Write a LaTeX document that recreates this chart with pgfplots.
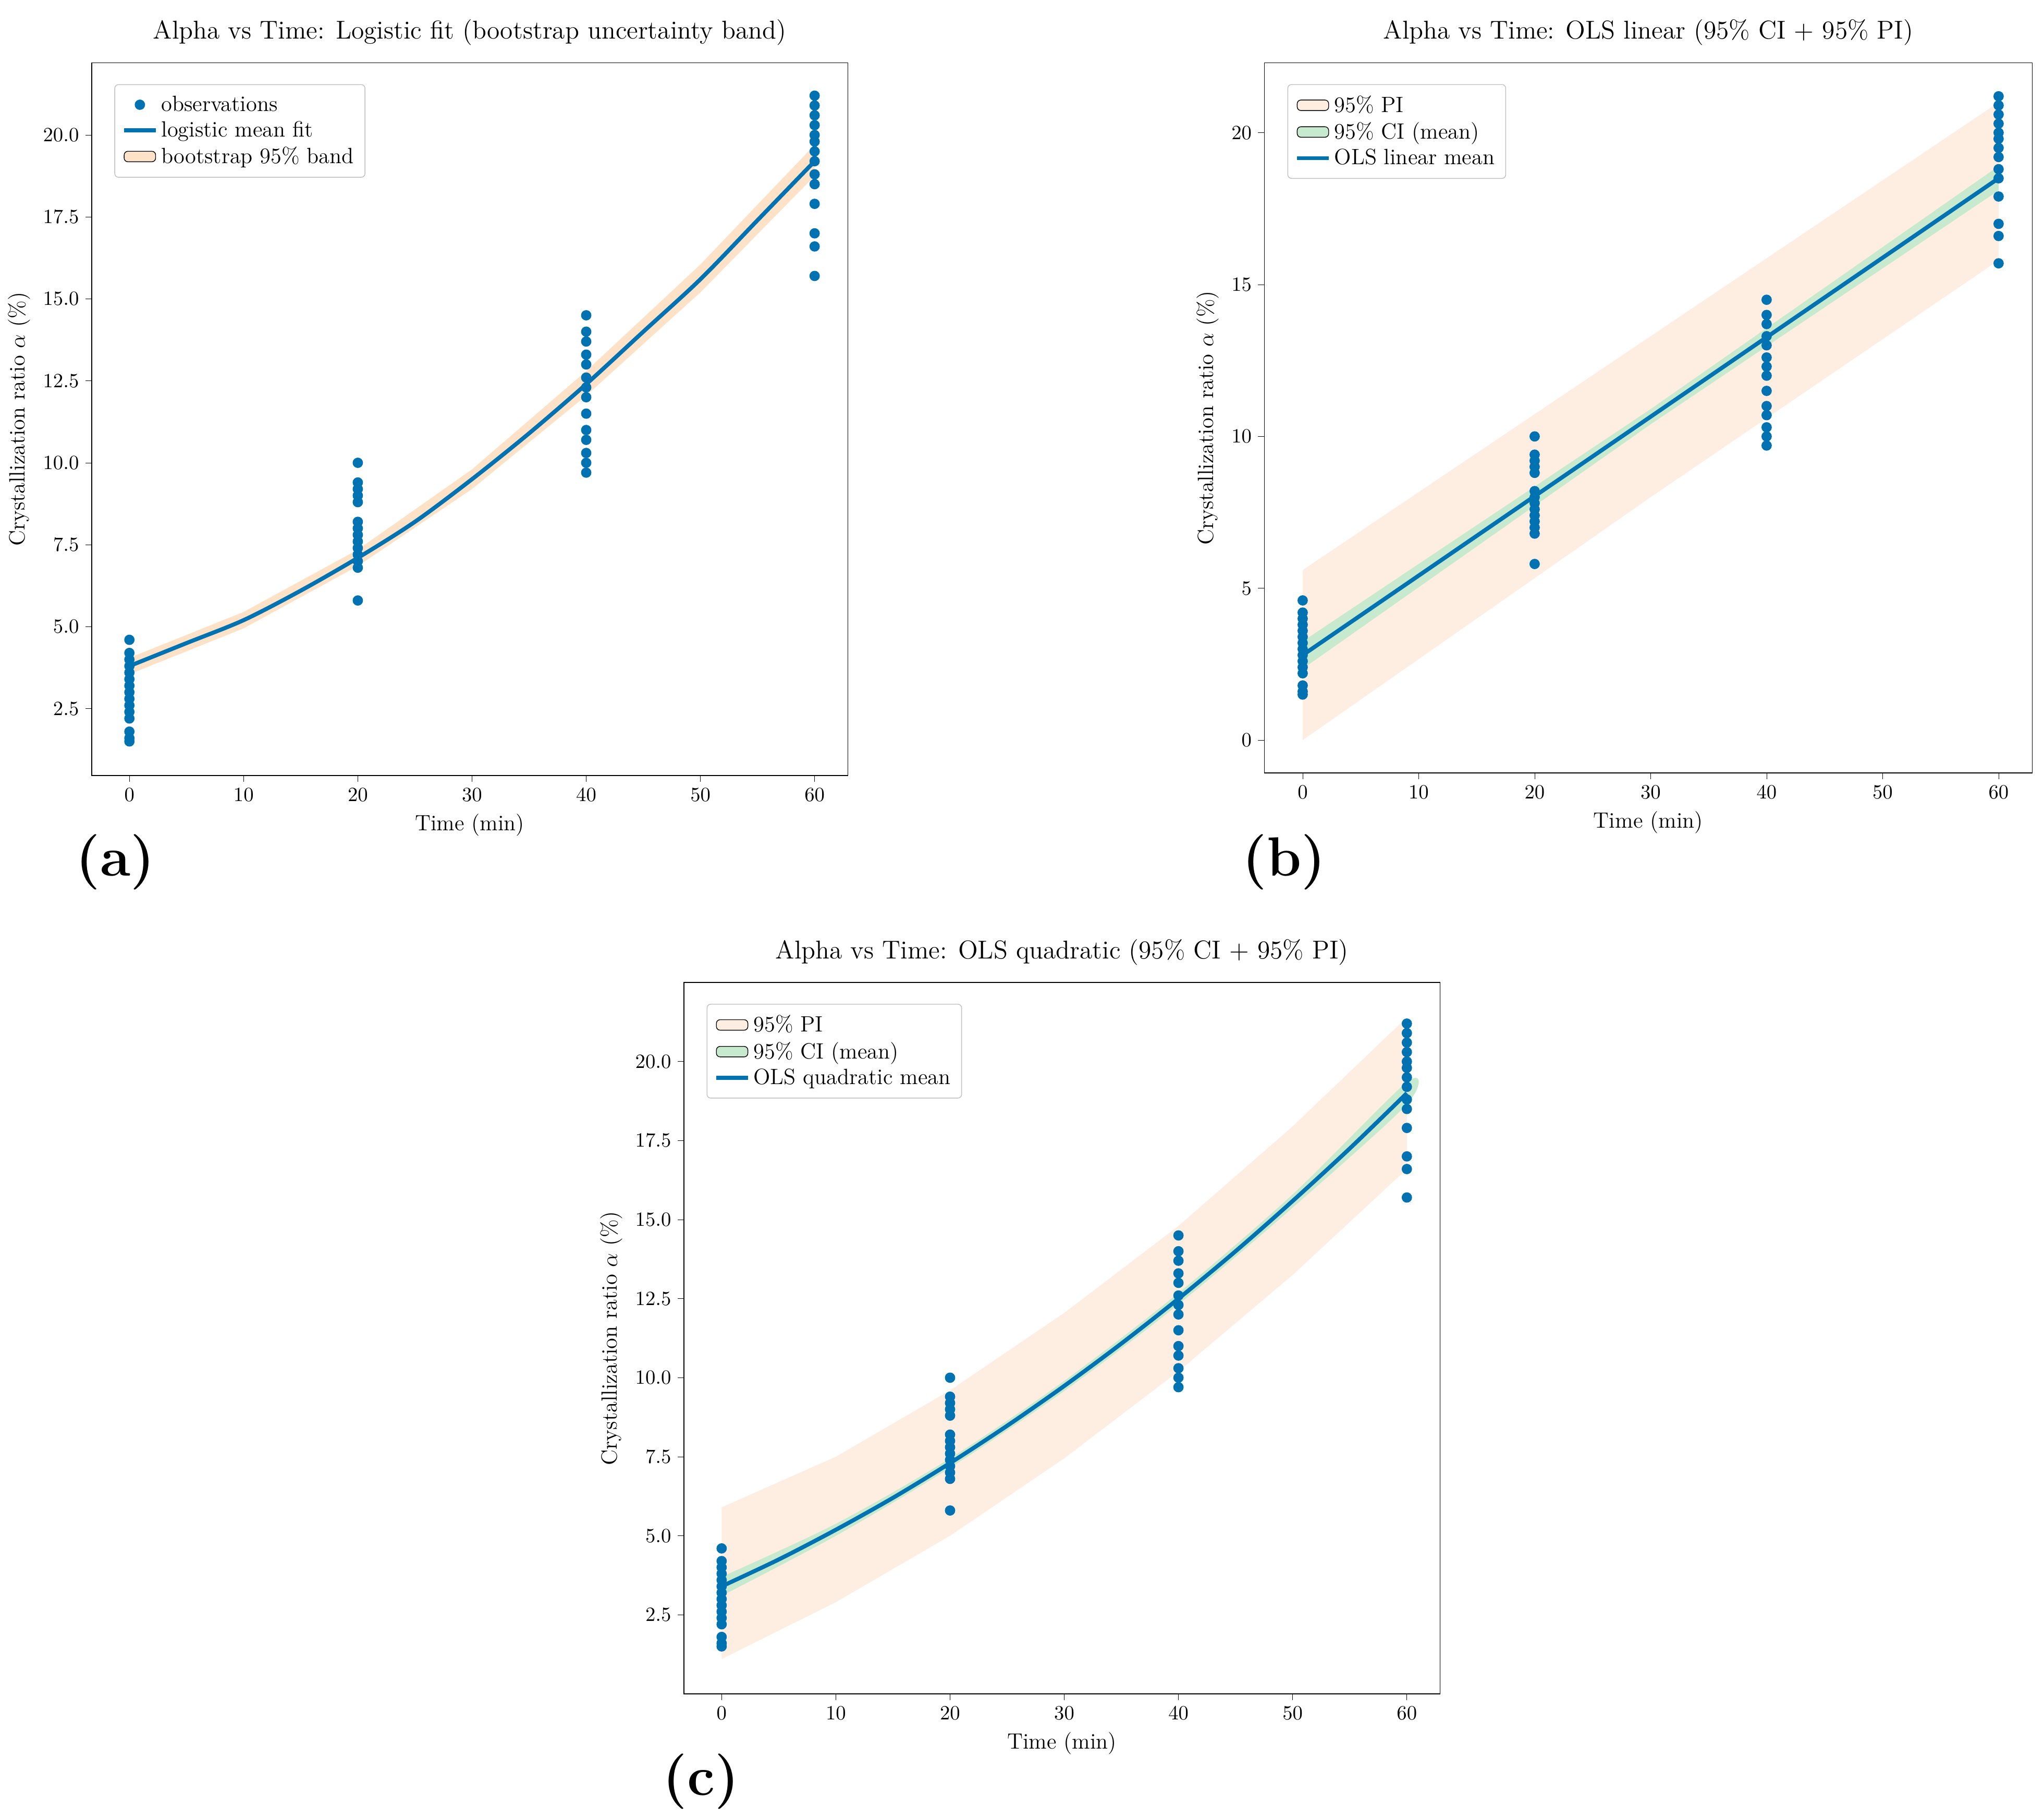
\documentclass[border=0pt]{standalone}
\usepackage{pgfplots}
\usepackage{pgfplotstable}
\pgfplotsset{compat=1.18}
\definecolor{cblue}{RGB}{0,114,178}
\definecolor{bandor}{RGB}{253,226,200}
\definecolor{pior}{RGB}{254,238,225}
\definecolor{cigr}{RGB}{199,234,206}
\pgfplotstableread{
t a
0 1.5
0 1.6
0 1.8
0 2.2
0 2.4
0 2.6
0 2.8
0 3.0
0 3.2
0 3.4
0 3.6
0 3.8
0 4.0
0 4.2
0 4.6
20 5.8
20 6.8
20 7.0
20 7.2
20 7.4
20 7.6
20 7.8
20 8.0
20 8.2
20 8.8
20 9.0
20 9.2
20 9.4
20 10.0
40 9.7
40 10.0
40 10.3
40 10.7
40 11.0
40 11.5
40 12.0
40 12.3
40 12.6
40 13.0
40 13.3
40 13.7
40 14.0
40 14.5
60 15.7
60 16.6
60 17.0
60 17.9
60 18.5
60 18.8
60 19.2
60 19.5
60 19.8
60 20.0
60 20.3
60 20.6
60 20.9
60 21.2
}\obs
\newcommand{\U}{0.025cm}
\pgfplotsset{
 base/.style={scale only axis, anchor=north west,
  xmin=-3.3, xmax=62.9, xtick={0,10,...,60},
  tick label style={font=\fontsize{11}{13}\selectfont},
  label style={font=\fontsize{12}{14}\selectfont},
  title style={font=\fontsize{14}{16}\selectfont},
  xlabel={Time (min)}, ylabel={Crystallization ratio $\alpha$ (\%)},
  legend pos=north west, legend cell align=left,
  legend style={font=\fontsize{12}{15}\selectfont, draw=black!25, rounded corners=2pt, inner sep=4pt},
  tick align=outside, tick style={black}, major tick length=0.12cm,
  xtick pos=bottom, ytick pos=left},
 obsst/.style={only marks, mark=*, mark size=2.6pt, cblue, mark options={draw=cblue, fill=cblue}},
 meanst/.style={cblue, line width=2.2pt},
}
\begin{document}
\begin{tikzpicture}
\path (0,0) rectangle (1560*\U,-1389*\U);
% (a)
\begin{axis}[base, at={(70*\U,-48*\U)}, width=577*\U, height=544*\U,
 ymin=0.46, ymax=22.2, ytick={2.5,5,...,20},
 yticklabel style={/pgf/number format/fixed, /pgf/number format/fixed zerofill, /pgf/number format/precision=1},
 title={Alpha vs Time: Logistic fit (bootstrap uncertainty band)}]
\addlegendimage{obsst}\addlegendentry{observations}
\addlegendimage{meanst}\addlegendentry{logistic mean fit}
\addlegendimage{area legend, fill=bandor, draw=none}\addlegendentry{bootstrap 95\% band}
\addplot[fill=bandor, draw=none, forget plot] coordinates {(0,4.05)(10,5.45)(20,7.35)(30,9.8)(40,12.8)(50,16.05)(60,19.7)(60,18.75)(50,15.2)(40,12.05)(30,9.2)(20,6.85)(10,4.95)(0,3.55)} --cycle;
\addplot[meanst, smooth, forget plot] coordinates {(0,3.8)(5,4.5)(10,5.2)(15,6.1)(20,7.1)(25,8.2)(30,9.5)(35,10.9)(40,12.4)(45,14.0)(50,15.6)(55,17.4)(60,19.2)};
\addplot[obsst, forget plot] table[x=t,y=a] {\obs};
\end{axis}
\node[font=\bfseries\fontsize{30}{32}\selectfont] at (88*\U,-658*\U) {(a)};
% (b)
\begin{axis}[base, at={(965*\U,-48*\U)}, width=586*\U, height=542*\U,
 ymin=-1.08, ymax=22.3, ytick={0,5,...,20},
 title={Alpha vs Time: OLS linear (95\% CI + 95\% PI)}]
\addplot[fill=pior, draw=none, area legend] coordinates {(0,5.6)(30,13.3)(60,21.0)(60,15.8)(30,8.0)(0,0.0)} --cycle;
\addlegendentry{95\% PI}
\addplot[fill=cigr, draw=none, area legend] coordinates {(0,3.25)(30,10.9)(60,18.9)(60,18.1)(30,10.4)(0,2.35)} --cycle;
\addlegendentry{95\% CI (mean)}
\addplot[meanst] coordinates {(0,2.8)(60,18.5)};
\addlegendentry{OLS linear mean}
\addplot[obsst, forget plot] table[x=t,y=a] {\obs};
\end{axis}
\node[font=\bfseries\fontsize{30}{32}\selectfont] at (980*\U,-658*\U) {(b)};
% (c)
\begin{axis}[base, at={(522*\U,-750*\U)}, width=577*\U, height=543*\U,
 ymin=0.0, ymax=22.5, ytick={2.5,5,...,20},
 yticklabel style={/pgf/number format/fixed, /pgf/number format/fixed zerofill, /pgf/number format/precision=1},
 title={Alpha vs Time: OLS quadratic (95\% CI + 95\% PI)}]
\addplot[fill=pior, draw=none, area legend] coordinates {(0,5.9)(10,7.5)(20,9.6)(30,12.05)(40,14.8)(50,17.95)(60,21.4)(60,16.6)(50,13.25)(40,10.2)(30,7.45)(20,5.0)(10,2.9)(0,1.1)} --cycle;
\addlegendentry{95\% PI}
\addplot[fill=cigr, draw=none, area legend, smooth] coordinates {(0,3.7)(10,5.38)(20,7.45)(30,9.9)(40,12.68)(50,15.8)(60,19.35)(60,18.65)(50,15.38)(40,12.32)(30,9.58)(20,7.15)(10,5.0)(0,3.1)} --cycle;
\addlegendentry{95\% CI (mean)}
\addplot[meanst, smooth] coordinates {(0,3.4)(5,4.25)(10,5.19)(15,6.2)(20,7.3)(25,8.48)(30,9.74)(35,11.08)(40,12.5)(45,14.0)(50,15.59)(55,17.25)(60,19.0)};
\addlegendentry{OLS quadratic mean}
\addplot[obsst, forget plot] table[x=t,y=a] {\obs};
\end{axis}
\node[font=\bfseries\fontsize{30}{32}\selectfont] at (535*\U,-1360*\U) {(c)};
\end{tikzpicture}
\end{document}
